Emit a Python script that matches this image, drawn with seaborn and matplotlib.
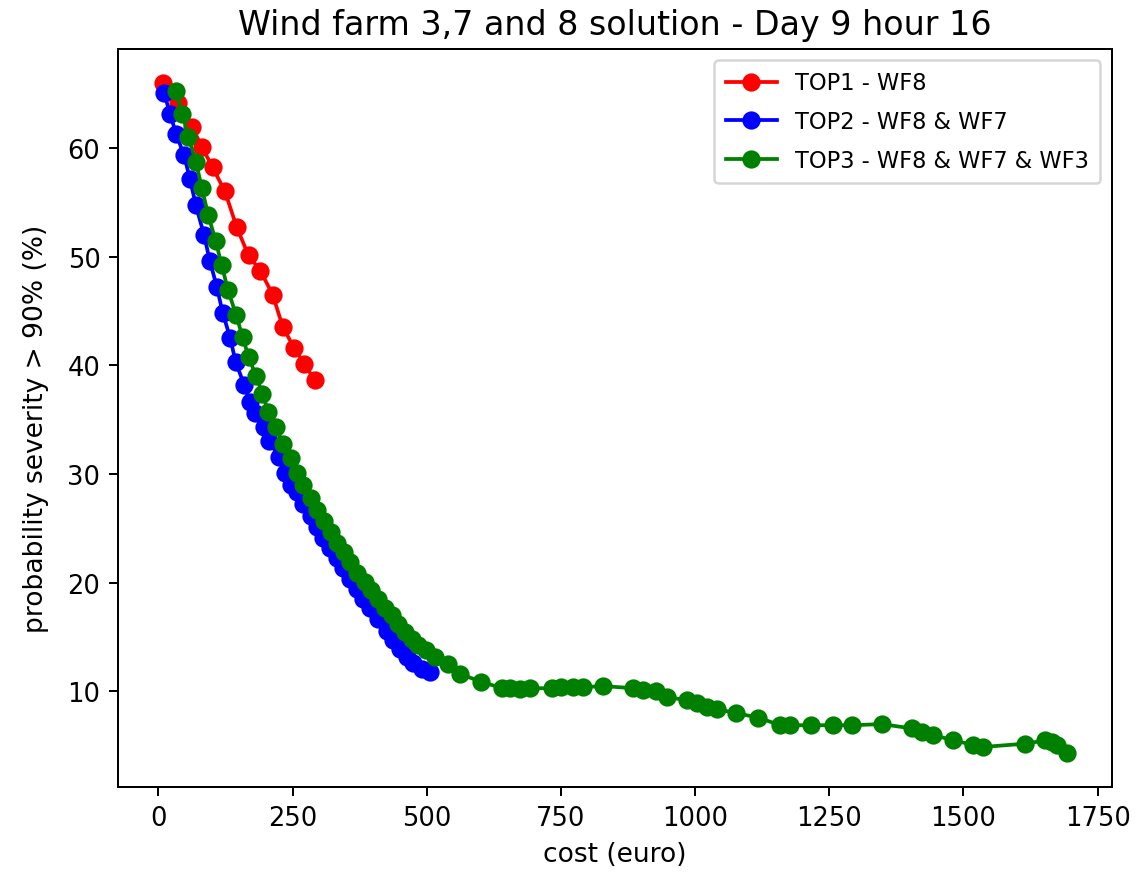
import matplotlib
matplotlib.use("Agg")
import matplotlib.pyplot as plt
import seaborn as sns

# cost (euro) vs probability severity > 90% (%)
top1_cost = [9, 37, 63, 81, 101, 124, 146, 168, 190, 213, 232, 253, 272, 292]
top1_prob = [66.0, 64.1, 61.9, 60.1, 58.2, 56.0, 52.7, 50.1, 48.7, 46.5, 43.5, 41.6, 40.1, 38.6]

top2_cost = [11, 22, 33, 48, 59, 70, 85, 96, 109, 120, 134, 144, 160, 171, 180, 196,
             207, 224, 236, 247, 258, 269, 284, 295, 307, 320, 332, 344, 357, 370,
             382, 394, 410, 426, 438, 450, 463, 475, 491, 506]
top2_prob = [65.0, 63.1, 61.3, 59.3, 57.1, 54.7, 52.0, 49.6, 47.2, 44.8, 42.5, 40.3, 38.2,
             36.6, 35.6, 34.3, 33.0, 31.6, 30.1, 29.0, 28.3, 27.2, 26.1, 25.1, 24.1, 23.2,
             22.3, 21.4, 20.3, 19.4, 18.5, 17.7, 16.7, 15.6, 14.7, 13.9, 13.2, 12.6, 12.1, 11.8]

top3_cost = [33, 45, 56, 70, 81, 93, 107, 118, 130, 145, 157, 168, 182, 194, 205, 219,
             232, 247, 258, 270, 284, 296, 309, 321, 333, 346, 358, 371, 385, 397, 410,
             422, 435, 447, 460, 472, 484, 499, 515, 540, 562, 602, 640, 655, 674, 692,
             733, 751, 773, 792, 829, 885, 903, 928, 947, 984, 1003, 1022, 1040, 1077,
             1118, 1158, 1176, 1215, 1256, 1293, 1348, 1404, 1422, 1444, 1481, 1518,
             1537, 1615, 1652, 1665, 1674, 1692]
top3_prob = [65.2, 63.1, 61.0, 58.7, 56.3, 53.8, 51.4, 49.2, 46.9, 44.6, 42.6, 40.8, 39.0,
             37.4, 35.7, 34.3, 32.8, 31.5, 30.1, 29.0, 27.8, 26.7, 25.7, 24.7, 23.7, 22.8,
             21.9, 20.9, 20.1, 19.3, 18.5, 17.7, 17.0, 16.2, 15.5, 14.8, 14.3, 13.8, 13.2,
             12.5, 11.6, 10.9, 10.3, 10.3, 10.2, 10.3, 10.3, 10.4, 10.4, 10.4, 10.5, 10.3,
             10.1, 10.0, 9.5, 9.2, 8.9, 8.6, 8.4, 8.0, 7.6, 6.9, 6.9, 6.9, 6.9, 6.9, 7.0,
             6.6, 6.3, 6.0, 5.5, 5.1, 4.9, 5.2, 5.5, 5.4, 5.1, 4.3]

fig = plt.figure(figsize=(1140 / 180, 875 / 180), dpi=180)
ax = fig.add_axes([0.1035, 0.0994, 0.8717, 0.8435])

series = [
    (top1_cost, top1_prob, "red", "TOP1 - WF8"),
    (top2_cost, top2_prob, "blue", "TOP2 - WF8 & WF7"),
    (top3_cost, top3_prob, "green", "TOP3 - WF8 & WF7 & WF3"),
]
for xs, ys, col, lab in series:
    sns.lineplot(x=xs, y=ys, ax=ax, color=col, marker="o", markersize=6.3,
                 markeredgecolor=col, markeredgewidth=1, linewidth=1.5,
                 sort=False, estimator=None, label=lab)

ax.set_xticks([0, 250, 500, 750, 1000, 1250, 1500, 1750])
ax.tick_params(labelsize=10.3)
ax.set_title("Wind farm 3,7 and 8 solution - Day 9 hour 16", fontsize=13.3)
ax.set_xlabel("cost (euro)", fontsize=10.6)
ax.set_ylabel("probability severity > 90% (%)", fontsize=10.6)
ax.yaxis.set_label_coords(-0.069, 0.487)
ax.legend(loc="upper right", fontsize=9, handlelength=2.3, labelspacing=0.7,
          borderpad=0.5)
fig.savefig("out.png", dpi=180)
